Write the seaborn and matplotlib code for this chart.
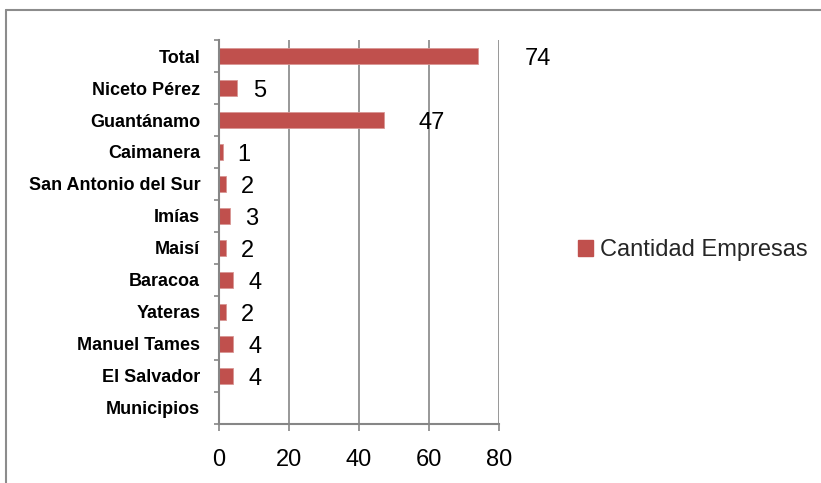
import numpy as np
import pandas as pd
import matplotlib
matplotlib.use("Agg")
import matplotlib.pyplot as plt
from matplotlib.lines import Line2D
from matplotlib.patches import Patch
from matplotlib.ticker import FixedLocator
from matplotlib import font_manager
import seaborn as sns

categories = ["Total", "Niceto Pérez", "Guantánamo", "Caimanera", "San Antonio del Sur",
              "Imías", "Maisí", "Baracoa", "Yateras", "Manuel Tames", "El Salvador", "Municipios"]
values = [74, 5, 47, 1, 2, 3, 2, 4, 2, 4, 4, np.nan]
series_name = "Cantidad Empresas"
x_ticks = [0, 20, 40, 60, 80]

df = pd.DataFrame({"cat": categories, "val": values})

sns.set_theme(style="white")
names = {f.name for f in font_manager.fontManager.ttflist}
base_font = "Liberation Sans" if "Liberation Sans" in names else "DejaVu Sans"
plt.rcParams["font.family"] = [base_font, "DejaVu Sans"]

bar_color = "#C0504D"
axis_gray = "#868686"

fig = plt.figure(figsize=(8.21, 4.83), dpi=100)
ax = fig.add_axes([219/821, 1-424/483, 280/821, 384/483])

sns.barplot(data=df, y="cat", x="val", order=categories, orient="h",
            color=bar_color, width=0.47, saturation=1, ax=ax, errorbar=None)
for p in ax.patches:
    p.set_edgecolor("#D99694")
    p.set_linewidth(0.6)

ax.set_xlim(0, 80)
ax.set_ylim(len(categories) - 0.5, -0.5)
ax.xaxis.set_major_locator(FixedLocator(x_ticks))
ax.set_xticklabels([str(t) for t in x_ticks], fontsize=17)
ax.grid(axis="x", color=axis_gray, linewidth=1.2)
ax.set_axisbelow(True)
ax.set_xlabel("")
ax.set_ylabel("")

for s in ["top", "right"]:
    ax.spines[s].set_visible(False)
for s in ["left", "bottom"]:
    ax.spines[s].set_color(axis_gray)
    ax.spines[s].set_linewidth(1.5)

ax.tick_params(axis="x", which="major", bottom=True, length=5, width=1.2,
               color=axis_gray, pad=13, labelcolor="black")
ax.tick_params(axis="y", which="major", left=False, length=0, pad=13.5)
ax.yaxis.set_minor_locator(FixedLocator(np.arange(-0.5, len(categories), 1.0)))
ax.tick_params(axis="y", which="minor", left=True, length=3.5, width=1.2, color=axis_gray)
for lab in ax.get_yticklabels():
    lab.set_fontweight("bold")
    lab.set_fontsize(13)
    lab.set_color("black")

for i, v in enumerate(values):
    if not np.isnan(v):
        ax.annotate(f"{int(v)}", xy=(v, i), xytext=(10 + 0.32 * v, -2), textcoords="offset points",
                    va="center", ha="left", fontsize=17, color="black")

handles = [Patch(facecolor=bar_color, edgecolor=bar_color)]
fig.legend(handles, [series_name], loc="center left", bbox_to_anchor=(578/821, 1-250/483),
           frameon=False, fontsize=17, handlelength=0.65, handleheight=0.65,
           handletextpad=0.3, borderpad=0, borderaxespad=0)

fig.add_artist(Line2D([6/821, 1], [1-10/483, 1-10/483], color="#8C8C8C", linewidth=1.5,
                      transform=fig.transFigure))
fig.add_artist(Line2D([6/821, 6/821], [0, 1-10/483], color="#8C8C8C", linewidth=1.5,
                      transform=fig.transFigure))

fig.savefig("out.png", dpi=100, facecolor="white")
